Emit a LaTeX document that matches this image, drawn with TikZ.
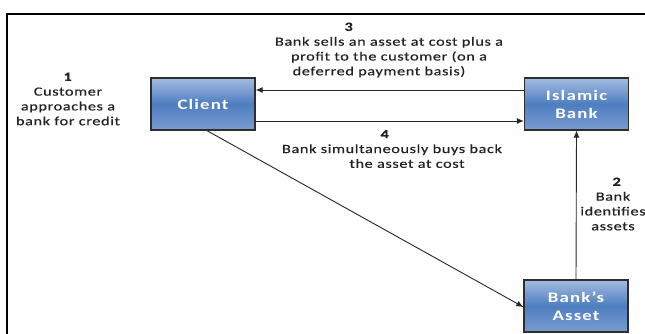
\documentclass[tikz,border=0pt]{standalone}
\usepackage{fontspec}
\setmainfont{Carlito}
\newfontfamily\lblfont[FakeStretch=1.3,LetterSpace=5,FakeBold=0.4]{Carlito}
\newfontfamily\boxfont[FakeStretch=1.3,LetterSpace=8]{Carlito}
\usetikzlibrary{arrows.meta}
\definecolor{boxtop}{HTML}{A4BBE0}
\definecolor{boxmid}{HTML}{4E7EC0}
\definecolor{boxbot}{HTML}{7A9BD0}
\definecolor{boxline}{HTML}{2E2E2E}
\definecolor{txt}{HTML}{222222}
\tikzset{
  bluebox/.style={draw=boxline, line width=1.3pt, minimum width=104pt, minimum height=52pt,
    top color=boxtop, bottom color=boxbot, middle color=boxmid, text=white,
    font=\boxfont\fontsize{14.5}{18}\selectfont\bfseries, align=center, inner sep=0pt},
  lbl/.style={align=center, text=txt, font=\lblfont\fontsize{12.5}{14.8}\selectfont, inner sep=0pt},
  conn/.style={draw=black!85, line width=0.9pt, -{Latex[length=7pt,width=6pt]}},
}
\begin{document}
\begin{tikzpicture}[x=1pt,y=1pt]
\useasboundingbox (0,0) rectangle (645,333);
\clip (0,0) rectangle (645,333);
\fill[white] (0,0) rectangle (645,333);
\draw[line width=2.2pt] (7,-10) -- (7,319) -- (660,319);
\node[bluebox] (client) at (203,229) {Client};
\node[bluebox] (bank) at (576.5,229) {Islamic\\Bank};
\node[bluebox] (asset) at (576,27) {Bank’s\\Asset};
\draw[conn] (bank.west |- 0,243) -- (client.east |- 0,243);
\draw[conn] (client.east |- 0,212) -- (bank.west |- 0,212);
\draw[conn] (asset.north) -- (bank.south);
\draw[conn] (client.south -| 207,0) -- (asset.west |- 0,26);
\node[lbl] (l1) at (68,234) {\textbf{1}\\Customer\\approaches a\\bank for credit};
\node[lbl] (l3) at (389,283) {\textbf{3}\hspace*{80pt}\\Bank sells an asset at cost plus a\\profit to the customer (on a\\deferred payment basis)\hspace*{20pt}};
\node[lbl] (l4) at (392,184) {\textbf{4}\hspace*{14pt}\\Bank simultaneously  buys back\\\hspace*{30pt}the asset at cost};
\node[lbl] (l2) at (613,129) {\hspace*{8pt}\textbf{2}\\Bank\\identifies\\assets};
\end{tikzpicture}
\end{document}
